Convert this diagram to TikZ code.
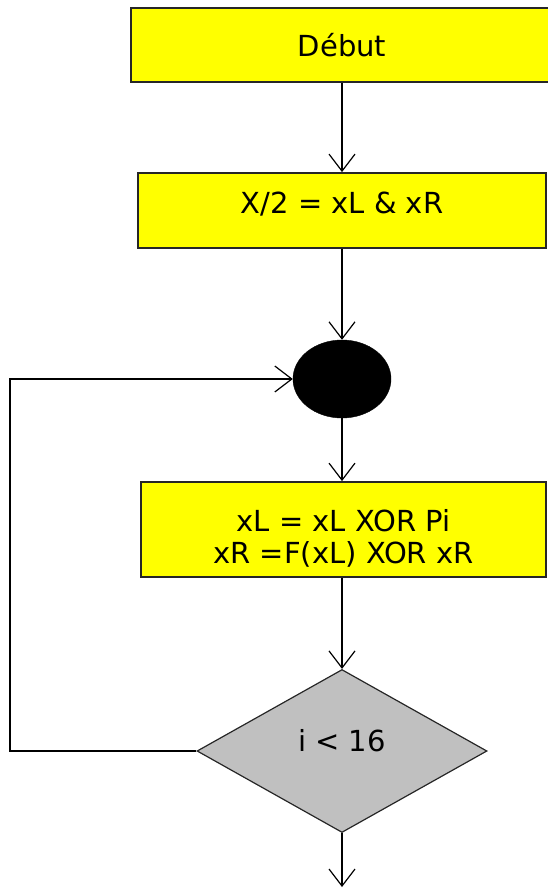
\documentclass[tikz,border=0pt]{standalone}
\usepackage{fontspec}
\setmainfont{DejaVu Sans}
\usetikzlibrary{shapes.geometric,arrows.meta}
\definecolor{boxyellow}{RGB}{255,255,0}
\definecolor{testgray}{RGB}{192,192,192}
\begin{document}
\begin{tikzpicture}[x=1pt,y=-1pt,
  procbox/.style={draw=black!85,line width=1.8pt,fill=boxyellow,rectangle,inner sep=0pt,font=\fontsize{29}{32}\selectfont},
  flowline/.style={line width=1.3pt,-{Straight Barb[length=17pt,width=26pt,line width=1.2pt]}},
  decision/.style={diamond,draw=black!85,line width=1.2pt,fill=testgray,inner sep=0pt,font=\fontsize{29}{32}\selectfont},
  joinpt/.style={ellipse,fill=black,draw=black,inner sep=0pt}]
\useasboundingbox (0,0) rectangle (547,888);
\node[procbox,minimum width=422pt,minimum height=74pt] (debut) at (342,45) {Début};
\node[procbox,minimum width=408pt,minimum height=75pt,text height=21pt,text depth=15pt] (split) at (342,210.5) {X/2 = xL \& xR};
\node[joinpt,minimum width=98pt,minimum height=78pt] (join) at (342,379) {};
\node[procbox,minimum width=405pt,minimum height=95pt,align=center,text height=71pt,text depth=3pt] (round) at (343.5,529.5) {xL = xL XOR Pi\\xR =F(xL) XOR xR};
\node[decision,minimum width=290pt,minimum height=163pt,text height=11pt,text depth=11pt] (test) at (342,751) {i < 16};
\coordinate (out) at (342,887);
\coordinate (lb) at (10,751);
\coordinate (lt) at (10,379);
\draw[flowline] (debut.south) -- (split.north);
\draw[flowline] (split.south) -- (join.north);
\draw[flowline] (join.south) -- (join.south |- round.north);
\draw[flowline] (round.south -| test.north) -- (test.north);
\draw[flowline] (test.south) -- (out);
\draw[flowline] (test.west) -- (lb) -- (lt) -- (join.west);
\end{tikzpicture}
\end{document}
